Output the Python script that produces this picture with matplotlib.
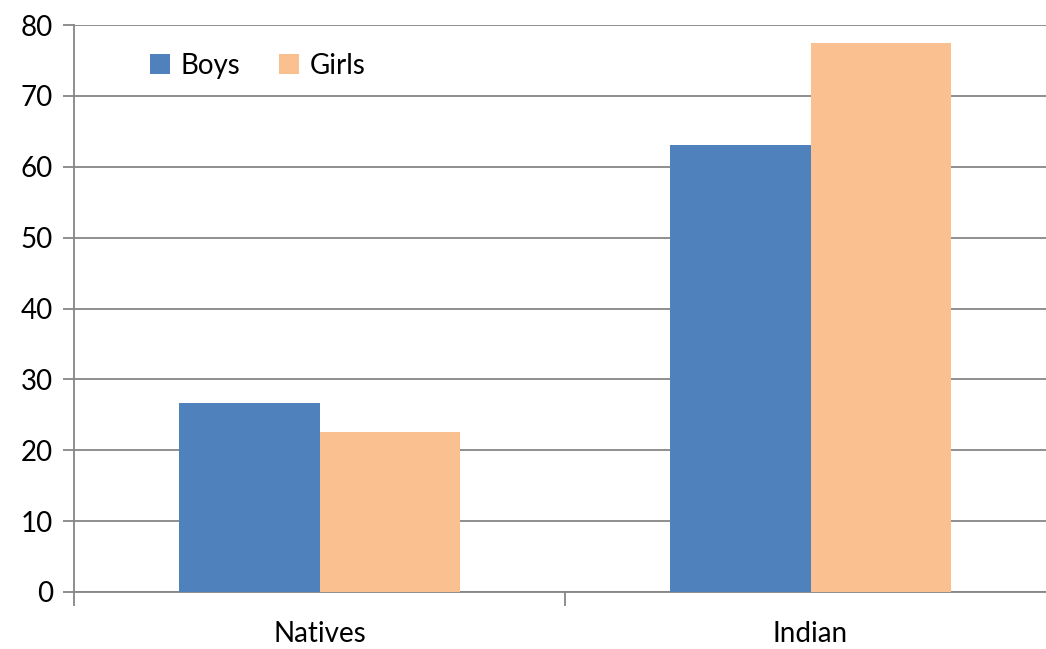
import numpy as np
import matplotlib
matplotlib.use('Agg')
import matplotlib.pyplot as plt

plt.rcParams['font.family'] = ['Lato', 'DejaVu Sans']

categories = ['Natives', 'Indian']
boys = [26.6, 63.1]
girls = [22.6, 77.4]
series_names = ['Boys', 'Girls']
yticks = [0, 10, 20, 30, 40, 50, 60, 70, 80]

boys_color = '#4F81BD'
girls_color = '#FAC090'
grid_color = '#868686'

fig = plt.figure(figsize=(10.46, 6.49), dpi=100)
# the plot area runs past the right edge of the picture, as in the original
ax = fig.add_axes([74 / 1046, 1 - 592 / 649, (1056 - 74) / 1046, (592 - 25) / 649])

x = np.arange(len(categories))
w = 2 / 3.5 / 2
ax.bar(x - w / 2, boys, width=w, color=boys_color, label=series_names[0], zorder=3)
ax.bar(x + w / 2, girls, width=w, color=girls_color, label=series_names[1], zorder=3)

ax.set_xlim(-0.5, len(categories) - 0.5)
ax.set_ylim(0, 80)
ax.set_yticks(yticks)
ax.yaxis.grid(True, color=grid_color, linewidth=1.3, zorder=0)
ax.set_axisbelow(True)

# category ticks between groups
ax.set_xticks([-0.5, 0.5, 1.5], minor=True)
ax.set_xticks(x)
ax.set_xticklabels(categories, fontsize=20)
ax.tick_params(axis='x', which='major', length=0, pad=21)
ax.tick_params(axis='x', which='minor', length=10, color=grid_color, width=1.3)
ax.tick_params(axis='y', length=8, color=grid_color, width=1.3, labelsize=20, pad=7)

for s in ['top', 'right']:
    ax.spines[s].set_visible(False)
for s in ['left', 'bottom']:
    ax.spines[s].set_color(grid_color)
    ax.spines[s].set_linewidth(1.3)

ax.legend(loc='upper left', bbox_to_anchor=(0.052, 0.995), ncol=2, frameon=False,
          fontsize=20, handlelength=0.7, handleheight=0.7, handletextpad=0.4,
          columnspacing=1.4)

fig.savefig('out.png', dpi=100)
